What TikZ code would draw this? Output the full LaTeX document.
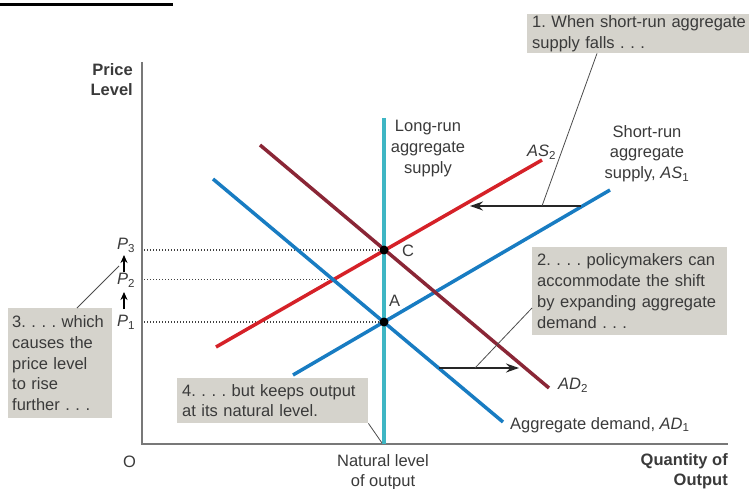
\documentclass[tikz,border=0pt]{standalone}
\usepackage{fontspec}
\setmainfont{Liberation Sans}
\usetikzlibrary{arrows.meta}
\definecolor{tealline}{RGB}{62,182,196}
\definecolor{blueline}{RGB}{24,124,194}
\definecolor{redline}{RGB}{213,33,40}
\definecolor{darkred}{RGB}{138,38,54}
\definecolor{boxgray}{RGB}{213,211,204}
\definecolor{txt}{RGB}{58,58,58}
\definecolor{axisgray}{RGB}{120,120,120}
\begin{document}
\frenchspacing
\begin{tikzpicture}[x=1pt,y=-1pt,
  font=\fontsize{16.5}{20.8}\selectfont, text=txt,
  curve/.style={line width=3.5pt},
  axisline/.style={draw=axisgray, line width=1.4pt},
  lbl/.style={inner sep=0pt, text=txt},
  callout/.style={fill=boxgray, inner xsep=5pt, inner ysep=0pt, anchor=north west, align=left,
    execute at begin node={\frenchspacing\hyphenpenalty=10000\hbadness=10000\hfuzz=20pt}},
  leader/.style={draw=black!70, line width=0.8pt},
  shiftarrow/.style={draw=black!85, line width=1.6pt, -{Stealth[length=13pt,width=9pt]}},
  parrow/.style={draw=black, line width=1.4pt, -{Stealth[length=8pt,width=7pt]}},
  dotline/.style={draw=black!75, line width=1.3pt, dash pattern=on 1.2pt off 1.8pt},
  eqdot/.style={circle, fill=black, inner sep=0pt, minimum size=9pt}]
\useasboundingbox (0,0) rectangle (749,489);

% cropped title underline
\fill[black] (0,3.3) rectangle (173,5.8);

% axes
\coordinate (ytop) at (142,62);
\coordinate (O) at (142,444);
\coordinate (xend) at (728,444);
\draw[axisline] (ytop) -- (O) -- (xend);

% key points
\coordinate (Cpt) at (384,250);
\coordinate (Apt) at (384,322);
\coordinate (Bpt) at (333,279.5);
\coordinate (y3) at (144,250);
\coordinate (y2) at (144,279.5);
\coordinate (y1) at (144,322);

% dotted guides
\draw[dotline] (y3) -- (Cpt);
\draw[dotline] (y2) -- (Bpt);
\draw[dotline] (y1) -- (Apt);

% curves
\coordinate (as2a) at (216,347); \coordinate (as2b) at (542,160);
\coordinate (ad1a) at (213,179); \coordinate (ad1b) at (503,422);
\coordinate (as1a) at (293,375); \coordinate (as1b) at (610,190);
\coordinate (ad2a) at (260,145); \coordinate (ad2b) at (549,388);
\coordinate (lra) at (384,118); \coordinate (lrb) at (384,444);
\draw[curve, redline] (as2a) -- (as2b);
\draw[curve, blueline] (ad1a) -- (ad1b);
\draw[curve, blueline] (as1a) -- (as1b);
\draw[curve, darkred] (ad2a) -- (ad2b);
\draw[curve, tealline] (lra) -- (lrb);

% shift arrows
\coordinate (s1a) at (581,206); \coordinate (s1b) at (470,206);
\coordinate (s2a) at (439,368); \coordinate (s2b) at (519,368);
\draw[shiftarrow] (s1a) -- (s1b);
\draw[shiftarrow] (s2a) -- (s2b);

% equilibrium dots
\node[eqdot] (C) at (Cpt) {};
\node[eqdot] (A) at (Apt) {};
\node[lbl, anchor=north west] (Clbl) at (402,245) {C};
\node[lbl, anchor=north west] (Albl) at (389,295) {A};

% price labels and arrows
\node[lbl, anchor=north west] (P3) at (117,238) {\textit{P}\textsubscript{3}};
\node[lbl, anchor=north west] (P2) at (117,273) {\textit{P}\textsubscript{2}};
\node[lbl, anchor=north west] (P1) at (117,315) {\textit{P}\textsubscript{1}};
\coordinate (pa1) at (124,309); \coordinate (pa1t) at (124,292);
\coordinate (pa2) at (124,272); \coordinate (pa2t) at (124,255);
\coordinate (pmid) at (119,266);
\draw[parrow] (pa1) -- (pa1t);
\draw[parrow] (pa2) -- (pa2t);

% curve labels
\node[lbl, anchor=north, align=center] (lrlbl) at (428,120) {Long-run\\aggregate\\supply};
\node[lbl, anchor=north, align=center] (srlbl) at (647,125) {Short-run\\aggregate\\supply, \textit{AS}\textsubscript{1}};
\node[lbl, anchor=north west] (as2lbl) at (527,145) {\textit{AS}\textsubscript{2}};
\node[lbl, anchor=north west] (ad2lbl) at (558,378) {\textit{AD}\textsubscript{2}};
\node[lbl, anchor=north west] (ad1lbl) at (510,417) {Aggregate demand, \textit{AD}\textsubscript{1}};

% axis labels
\node[lbl, anchor=north east, align=right, font=\fontsize{16.5}{20.8}\selectfont\bfseries] (ylbl) at (133,63) {Price\\Level};
\node[lbl, anchor=north east, align=right, font=\fontsize{16.5}{20.8}\selectfont\bfseries] (xlbl) at (728,453) {Quantity of\\Output};
\node[lbl, anchor=north, align=center] (natlbl) at (383,454) {Natural level\\of output};
\node[lbl, anchor=north west] (zero) at (123,456) {O};

% callouts
\node[callout, text width=215pt, minimum height=39pt] (b1) at (527,14)
  {\mbox{1. When short-run aggregate}\\\mbox{supply falls . . .}};
\node[callout, text width=185pt, minimum height=88pt] (b2) at (532,247)
  {\mbox{2. . . . policymakers can}\\\mbox{accommodate the shift}\\\mbox{by expanding aggregate}\\\mbox{demand . . .}};
\node[callout, inner xsep=4pt, text width=96pt, minimum height=110pt] (b3) at (8,308)
  {\mbox{3. . . . which}\\\mbox{causes the}\\\mbox{price level}\\\mbox{to rise}\\\mbox{further . . .}};
\node[callout, text width=181pt, minimum height=45pt] (b4) at (177,378)
  {\mbox{4. . . . but keeps output}\\\mbox{at its natural level.}};

% leaders
\coordinate (l1) at (542,206);
\coordinate (l2) at (475,368);
\coordinate (l4) at (382,443);
\draw[leader] ([xshift=70pt]b1.south west) -- (l1);
\draw[leader] ([yshift=-61pt]b2.north west) -- (l2);
\draw[leader] ([xshift=69pt]b3.north west) -- (pmid);
\draw[leader] (b4.south east) -- (l4);
\end{tikzpicture}
\end{document}
